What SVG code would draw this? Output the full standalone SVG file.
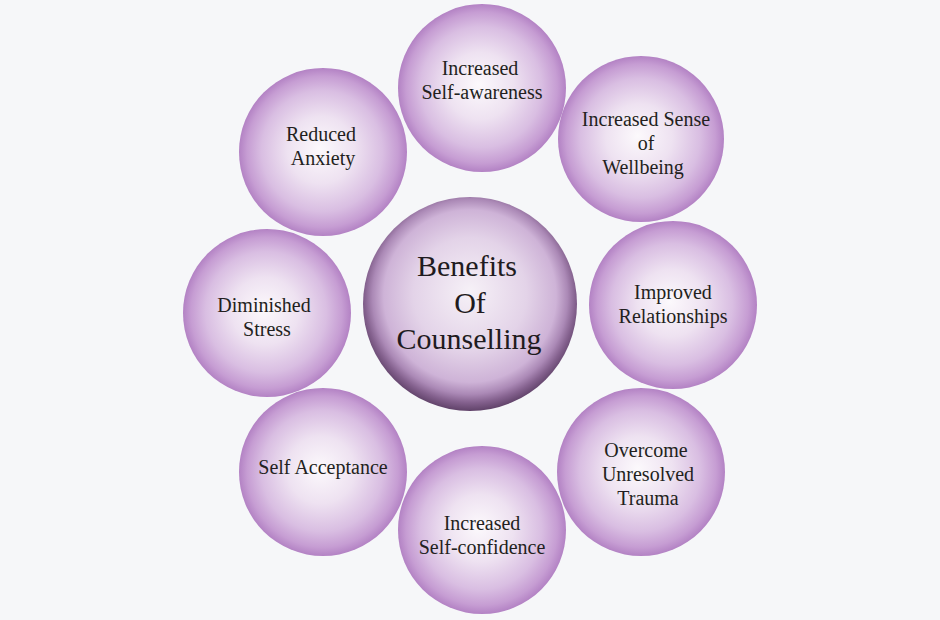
<svg xmlns="http://www.w3.org/2000/svg" width="940" height="620" viewBox="0 0 940 620">
  <defs>
    <radialGradient id="gOuter" cx="50%" cy="50%" r="50%" fx="48%" fy="48%">
      <stop offset="0" stop-color="#fcf9fc"/>
      <stop offset="0.4" stop-color="#eee2f1"/>
      <stop offset="0.72" stop-color="#d9bee2"/>
      <stop offset="0.9" stop-color="#c69dd3"/>
      <stop offset="1" stop-color="#b382c4"/>
    </radialGradient>
    <radialGradient id="gCenter" cx="50%" cy="47%" r="53%" fx="50%" fy="44%">
      <stop offset="0" stop-color="#f6f1f7"/>
      <stop offset="0.5" stop-color="#e3d3e8"/>
      <stop offset="0.76" stop-color="#ceb3d7"/>
      <stop offset="0.86" stop-color="#ab89b6"/>
      <stop offset="0.93" stop-color="#84618e"/>
      <stop offset="1" stop-color="#604269"/>
    </radialGradient>
    <style>
      .bg { fill: #f6f7f9; }
      .outer { fill: url(#gOuter); }
      .center { fill: url(#gCenter); }
      .lbl { font-family: "Liberation Serif", "Times New Roman", serif; font-size: 20px; fill: #231f20; text-anchor: middle; }
      .title { font-family: "Liberation Serif", "Times New Roman", serif; font-size: 30px; fill: #1f1b20; text-anchor: middle; }
    </style>
  </defs>
  <rect class="bg" x="0" y="0" width="940" height="620"/>
  <g id="connectors"/>
  <g id="node-center">
    <circle class="center" cx="470" cy="304" r="107"/>
    <text class="title" x="467" y="276">Benefits</text>
    <text class="title" x="470" y="313">Of</text>
    <text class="title" x="469" y="349">Counselling</text>
  </g>
  <g id="node-self-awareness">
    <circle class="outer" cx="482" cy="88" r="84"/>
    <text class="lbl" x="480" y="75">Increased</text>
    <text class="lbl" x="482" y="99">Self-awareness</text>
  </g>
  <g id="node-wellbeing">
    <circle class="outer" cx="641" cy="139" r="83"/>
    <text class="lbl" x="646" y="126">Increased Sense</text>
    <text class="lbl" x="646" y="150">of</text>
    <text class="lbl" x="643" y="174">Wellbeing</text>
  </g>
  <g id="node-relationships">
    <circle class="outer" cx="673" cy="305" r="84"/>
    <text class="lbl" x="673" y="299">Improved</text>
    <text class="lbl" x="673" y="323">Relationships</text>
  </g>
  <g id="node-trauma">
    <circle class="outer" cx="641" cy="472" r="84"/>
    <text class="lbl" x="646" y="457">Overcome</text>
    <text class="lbl" x="648" y="481">Unresolved</text>
    <text class="lbl" x="648" y="505">Trauma</text>
  </g>
  <g id="node-self-confidence">
    <circle class="outer" cx="482" cy="530" r="84"/>
    <text class="lbl" x="482" y="530">Increased</text>
    <text class="lbl" x="482" y="554">Self-confidence</text>
  </g>
  <g id="node-self-acceptance">
    <circle class="outer" cx="323" cy="472" r="84"/>
    <text class="lbl" x="323" y="474">Self Acceptance</text>
  </g>
  <g id="node-diminished-stress">
    <circle class="outer" cx="267" cy="313" r="84"/>
    <text class="lbl" x="264" y="312">Diminished</text>
    <text class="lbl" x="267" y="336">Stress</text>
  </g>
  <g id="node-reduced-anxiety">
    <circle class="outer" cx="323" cy="152" r="84"/>
    <text class="lbl" x="321" y="141">Reduced</text>
    <text class="lbl" x="323" y="165">Anxiety</text>
  </g>
</svg>
